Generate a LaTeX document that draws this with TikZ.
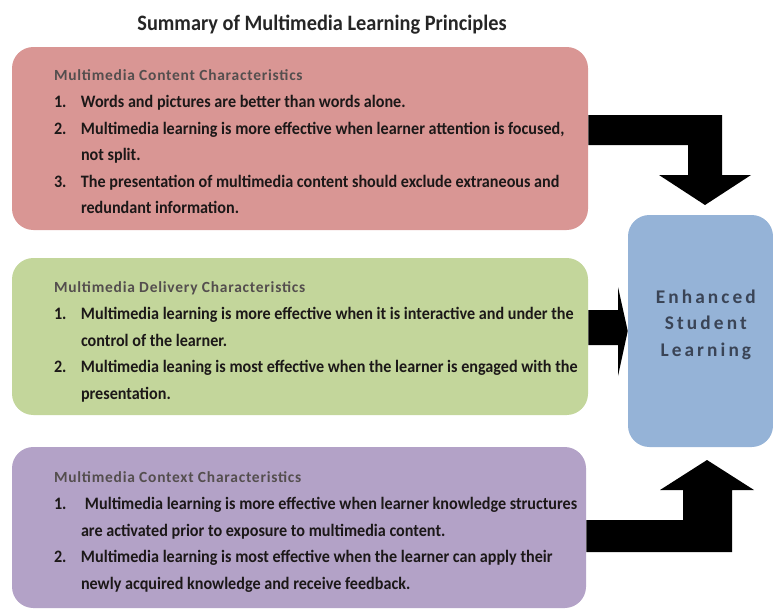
\documentclass[tikz,border=0pt]{standalone}
\usepackage{fontspec}
\setmainfont{Carlito}
\newfontfamily\itemfont{Carlito}[FakeStretch=0.925]
\newfontfamily\headfont{Carlito}[LetterSpace=5]
\newfontfamily\outfont{Carlito}[LetterSpace=16]
\usetikzlibrary{positioning}

\definecolor{cardred}{RGB}{217,150,148}
\definecolor{cardgreen}{RGB}{195,214,155}
\definecolor{cardpurple}{RGB}{179,162,199}
\definecolor{cardblue}{RGB}{149,179,215}
\definecolor{headgray}{RGB}{84,78,78}
\definecolor{itemink}{RGB}{28,24,24}
\definecolor{outink}{RGB}{58,68,86}

% numbered line and wrapped line
\newcommand{\itemno}[1]{\makebox[20.25pt][l]{#1}}
\newcommand{\wrapind}{\hspace*{20.25pt}}
\newcommand{\cardbody}[2]{\parbox[t]{420pt}{\itemfont\bfseries\fontsize{13.1pt}{19.95pt}\selectfont\color{itemink}%
  {\headfont\bfseries\fontsize{11.6pt}{19.95pt}\selectfont\color{headgray}#1}\\#2}}

\tikzset{
  card/.style={rectangle, rounded corners=16pt, inner sep=0pt, minimum width=432pt},
  cardtext/.style={inner sep=0pt},
  blockarrow/.style={fill=black},
}

\begin{document}
\begin{tikzpicture}[x=0.75pt,y=0.75pt,yscale=-1,xscale=1]
            \useasboundingbox (0,0) rectangle (773,614);

            % Title
            \node [anchor=base, inner sep=0pt, text=black!85, font=\itemfont\bfseries\fontsize{16.5pt}{20pt}\selectfont] (title) at (322,30) {Summary of Multimedia Learning Principles};

            %Shape: Rounded Rect
            \node [card, fill=cardred, minimum height=137.25pt] (redbox) at (300,138.5) {};
            %Shape: Rounded Rect
            \node [card, fill=cardgreen, minimum height=117.75pt] (greenbox) at (300,336.5) {};
            %Shape: Rounded Rect
            \node [card, fill=cardpurple, minimum height=120.75pt, minimum width=430.5pt] (purplebox) at (299,527.5) {};
            %Shape: Rounded Rect
            \node [card, fill=cardblue, minimum height=174pt, minimum width=108.75pt] (bluebox) at (700.5,331) {};

            % Text Node
            \node [cardtext, below right=17.25pt and 31.5pt of redbox.north west] (redtext) {\cardbody{Multimedia Content Characteristics}{%
              \itemno{1.}Words and pictures are better than words alone.\\
              \itemno{2.}Multimedia learning is more effective when learner attention is focused,\\
              \wrapind not split.\\
              \itemno{3.}The presentation of multimedia content should exclude extraneous and\\
              \wrapind redundant information.}};
            % Text Node
            \node [cardtext, below right=18pt and 31.5pt of greenbox.north west] (greentext) {\cardbody{Multimedia Delivery Characteristics}{%
              \itemno{1.}Multimedia learning is more effective when it is interactive and under the\\
              \wrapind control of the learner.\\
              \itemno{2.}Multimedia leaning is most effective when the learner is engaged with the\\
              \wrapind presentation.}};
            % Text Node
            \node [cardtext, below right=18.75pt and 31.5pt of purplebox.north west] (purpletext) {\cardbody{Multimedia Context Characteristics}{%
              \itemno{1.}\hspace{3pt}Multimedia learning is more effective when learner knowledge structures\\
              \wrapind are activated prior to exposure to multimedia content.\\
              \itemno{2.}Multimedia learning is most effective when the learner can apply their\\
              \wrapind newly acquired knowledge and receive feedback.}};
            % Text Node
            \node [anchor=base, inner sep=0pt] (outcome) at ([xshift=4pt,yshift=56.25pt]bluebox.north) {\parbox[t]{108pt}{\centering\outfont\bfseries\fontsize{14.5pt}{19.95pt}\selectfont\color{outink}Enhanced\\Student\\Learning}};

            % Block arrows
            \coordinate (topTip) at (705,205);
            \coordinate (botTip) at (707,460);
            \fill [blockarrow] (redbox.east |- 0,115) -- (722,115) -- (722,175) -- (751,175) -- (topTip) -- (659,175) -- (688,175) -- (688,145) -- (redbox.east |- 0,145) -- cycle;
            \fill [blockarrow] (greenbox.east |- 0,310) -- (618,310) -- (618,287) -- (bluebox.west) -- (618,376) -- (618,345) -- (greenbox.east |- 0,345) -- cycle;
            \fill [blockarrow] (purplebox.east |- 0,520) -- (683,520) -- (683,490) -- (660,490) -- (botTip) -- (754,490) -- (732,490) -- (732,552) -- (purplebox.east |- 0,552) -- cycle;
        \end{tikzpicture}
\end{document}
